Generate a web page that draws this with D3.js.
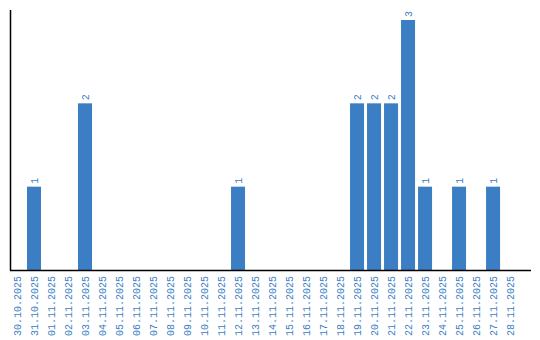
<!DOCTYPE html>
<html><head><meta charset="utf-8">
<script src="https://cdn.jsdelivr.net/npm/d3@7"></script>
<style>body{margin:0;background:#fff}svg{display:block}</style>
</head><body>
<script>
const dates = ["30.10.2025","31.10.2025","01.11.2025","02.11.2025","03.11.2025","04.11.2025","05.11.2025","06.11.2025","07.11.2025","08.11.2025","09.11.2025","10.11.2025","11.11.2025","12.11.2025","13.11.2025","14.11.2025","15.11.2025","16.11.2025","17.11.2025","18.11.2025","19.11.2025","20.11.2025","21.11.2025","22.11.2025","23.11.2025","24.11.2025","25.11.2025","26.11.2025","27.11.2025","28.11.2025"];
const counts = [0,1,0,0,2,0,0,0,0,0,0,0,0,1,0,0,0,0,0,0,2,2,2,3,1,0,1,0,1,0];

const W = 540, H = 340;
const color = "#3b7ec3";
const font = "'Liberation Mono', 'DejaVu Sans Mono', monospace";
const svg = d3.select("body").append("svg").attr("width", W).attr("height", H);

const x = d3.scaleBand().domain(dates).range([10, 531]).paddingInner(3/17).paddingOuter(0.41).align(0);
const y = d3.scaleLinear().domain([0, 3]).range([270, 20]);

const data = dates.map((d, i) => ({d, v: counts[i]}));

svg.selectAll("rect.bar").data(data.filter(e => e.v > 0)).join("rect")
  .attr("class", "bar")
  .attr("x", e => x(e.d)).attr("width", x.bandwidth())
  .attr("y", e => y(e.v)).attr("height", e => y(0) - y(e.v))
  .attr("fill", color);

svg.selectAll("text.val").data(data.filter(e => e.v > 0)).join("text")
  .attr("class", "val")
  .attr("transform", e => `translate(${x(e.d) + x.bandwidth()/2 + 3.5},${y(e.v) - 3}) rotate(-90)`)
  .attr("font-family", font).attr("font-size", 10).attr("fill", color)
  .text(e => e.v);

// axes lines
svg.append("line").attr("x1", 10.5).attr("x2", 10.5).attr("y1", 10).attr("y2", 270.5).attr("stroke", "#000").attr("stroke-width", 1.5);
svg.append("line").attr("x1", 10).attr("x2", 531).attr("y1", 270.5).attr("y2", 270.5).attr("stroke", "#000").attr("stroke-width", 1.5);

const xAxis = d3.axisBottom(x).tickSize(0).tickPadding(0);
const gx = svg.append("g").attr("transform", "translate(0,270)").call(xAxis);
gx.select(".domain").remove();
gx.selectAll("text")
  .attr("font-family", font).attr("font-size", 10).attr("fill", color)
  .attr("dy", null).attr("y", null)
  .attr("transform", "translate(3.5,6) rotate(-90)")
  .attr("text-anchor", "end");
</script>
</body></html>
